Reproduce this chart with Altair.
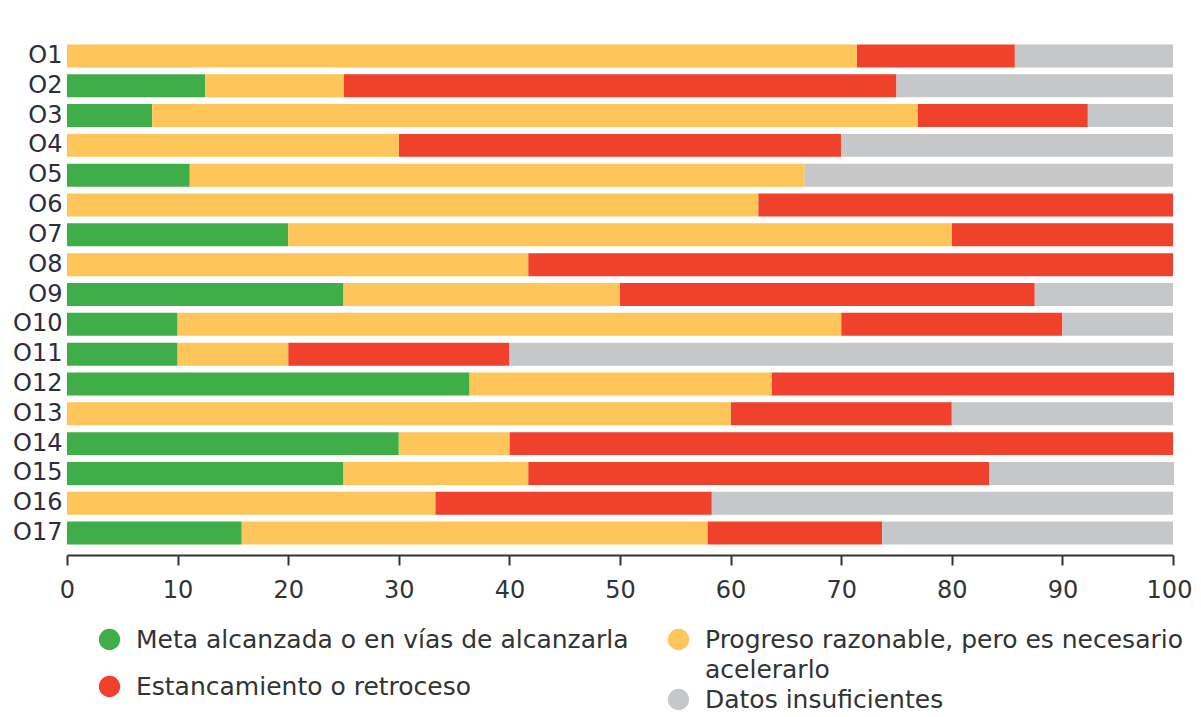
import altair as alt
import pandas as pd

goals = ["O1", "O2", "O3", "O4", "O5", "O6", "O7", "O8", "O9", "O10",
         "O11", "O12", "O13", "O14", "O15", "O16", "O17"]
categories = ["Meta alcanzada o en vías de alcanzarla",
              "Progreso razonable, pero es necesario acelerarlo",
              "Estancamiento o retroceso",
              "Datos insuficientes"]
colors = ["#3fae49", "#fdc55a", "#ef412b", "#c6c7c9"]

green = [0, 12.5, 7.7, 0, 11.1, 0, 20, 0, 25, 10, 10, 36.4, 0, 30, 25, 0, 15.8]
yellow = [71.4, 12.5, 69.2, 30, 55.6, 62.5, 60, 41.7, 25, 60, 10, 27.3, 60, 10, 16.7, 33.3, 42.1]
red = [14.3, 50, 15.4, 40, 0, 37.5, 20, 58.3, 37.5, 20, 20, 36.4, 20, 60, 41.7, 25, 15.8]
grey = [14.3, 25, 7.7, 30, 33.3, 0, 0, 0, 12.5, 10, 60, 0, 20, 0, 16.7, 41.7, 26.3]
x_ticks = [0, 10, 20, 30, 40, 50, 60, 70, 80, 90, 100]

rows = []
for k, (series, cat) in enumerate(zip([green, yellow, red, grey], categories)):
    for g, v in zip(goals, series):
        rows.append({"goal": g, "cat": cat, "value": v, "order": k})
df = pd.DataFrame(rows)

FONT = "DejaVu Sans"
label_expr = ("datum.label == 'Progreso razonable, pero es necesario acelerarlo' ? "
              "['Progreso razonable, pero es necesario', ' acelerarlo'] : datum.label")

y_enc = alt.Y("goal:N", sort=goals, title=None,
              scale=alt.Scale(paddingInner=0.23, paddingOuter=0.115),
              axis=alt.Axis(ticks=False, domain=False, labelFont=FONT, labelFontSize=24,
                            labelColor="#2d2d3d", labelPadding=5))
x_enc = alt.X("x0:Q", title=None,
              scale=alt.Scale(domain=[0, 100], nice=False),
              axis=alt.Axis(values=x_ticks, grid=False, labelFont=FONT, labelFontSize=24,
                            labelColor="#333333", domainColor="#333333", domainWidth=2,
                            tickColor="#333333", tickWidth=2, tickSize=10, labelPadding=13,
                            offset=7, labelFlush=False,
                            labelOffset={"condition": {"test": "datum.value === 100", "value": -4},
                                         "value": 0}))


def legend(x, y, pad):
    return alt.Legend(title=None, orient="none", legendX=x, legendY=y, direction="vertical",
                      symbolType="circle", symbolSize=452, symbolStrokeWidth=0,
                      labelFont=FONT, labelFontSize=25, labelColor="#333333", labelLimit=700,
                      labelOffset=14, rowPadding=pad, labelExpr=label_expr)


base = alt.Chart(df).transform_stack(
    stack="value", as_=["x0", "x1"], groupby=["goal"], sort=[alt.SortField("order")]
)

col1 = [categories[0], categories[2]]
col2 = [categories[1], categories[3]]

layer1 = base.transform_filter(alt.FieldOneOfPredicate(field="cat", oneOf=col1)).mark_bar().encode(
    y=y_enc, x=x_enc, x2="x1:Q",
    color=alt.Color("cat:N", scale=alt.Scale(domain=col1, range=[colors[0], colors[2]]),
                    legend=legend(30, 586, 21)),
)
layer2 = base.transform_filter(alt.FieldOneOfPredicate(field="cat", oneOf=col2)).mark_bar().encode(
    y=y_enc, x=x_enc, x2="x1:Q",
    color=alt.Color("cat:N", scale=alt.Scale(domain=col2, range=[colors[1], colors[3]]),
                    legend=legend(599, 586, 4)),
)

chart = alt.layer(layer1, layer2).resolve_scale(color="independent").properties(
    width=1106, height=507,
    padding={"left": 59, "top": 33, "right": 20, "bottom": 168},
    autosize=alt.AutoSizeParams(type="none"),
).configure(style={"guide-label": {"lineHeight": 30}}).configure_view(stroke=None)

chart.save("out.html", embed_options={"renderer": "svg", "actions": False})
